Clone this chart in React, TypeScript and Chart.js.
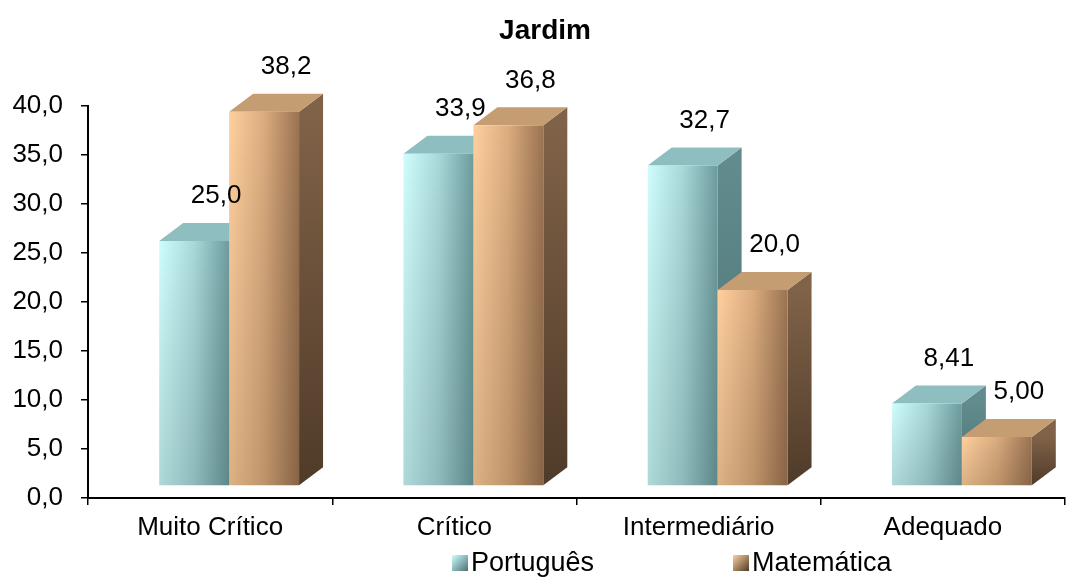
import React, { useEffect, useRef } from 'react';
import { Chart, registerables } from 'chart.js';

Chart.register(...registerables);

// ---- data ----
const chartTitle = 'Jardim';
const categories = ['Muito Crítico', 'Crítico', 'Intermediário', 'Adequado'];
const seriesNames = ['Português', 'Matemática'];
const portugues = [25.0, 33.9, 32.7, 8.41];
const matematica = [38.2, 36.8, 20.0, 5.0];
const yTickValues = [0, 5, 10, 15, 20, 25, 30, 35, 40];

// ---- styling ----
const FONT = '"Liberation Sans", Arial, sans-serif';
const W = 1070;
const H = 577;

const palettes = [
  { frontL: '#cffdfd', frontM: '#a9d8d9', frontR: '#6e9c9e', top: '#8fbec0', sideT: '#618b8d', sideB: '#4b7172', shade: 'rgba(0,30,30,0.16)' },
  { frontL: '#ffd09e', frontM: '#dbac7e', frontR: '#9a7352', top: '#c49d72', sideT: '#806248', sideB: '#4f3b29', shade: 'rgba(40,20,0,0.16)' },
];

const SHIFT_X = 19;
const SHIFT_Y = -12;
const DEPTH_X = 24;
const DEPTH_Y = -18;

const fmtValue = (v: number) => v.toPrecision(3).replace('.', ',');

const bar3d = {
  id: 'bar3d',
  afterDatasetsDraw(chart: any) {
    const ctx: CanvasRenderingContext2D = chart.ctx;
    const labels: { x: number; y: number; t: string }[] = [];
    ctx.save();
    chart.data.datasets.forEach((ds: any, di: number) => {
      const meta = chart.getDatasetMeta(di);
      const pal = palettes[di];
      meta.data.forEach((el: any, i: number) => {
        const { x, y, base, width } = el.getProps(['x', 'y', 'base', 'width'], true);
        const x0 = x - width / 2 + SHIFT_X;
        const x1 = x + width / 2 + SHIFT_X;
        const yT = y + SHIFT_Y;
        const yB = base + SHIFT_Y;

        // side face
        const sg = ctx.createLinearGradient(0, yT, 0, yB);
        sg.addColorStop(0, pal.sideT);
        sg.addColorStop(1, pal.sideB);
        ctx.fillStyle = sg;
        ctx.beginPath();
        ctx.moveTo(x1, yT);
        ctx.lineTo(x1 + DEPTH_X, yT + DEPTH_Y);
        ctx.lineTo(x1 + DEPTH_X, yB + DEPTH_Y);
        ctx.lineTo(x1, yB);
        ctx.closePath();
        ctx.fill();

        // top face
        ctx.fillStyle = pal.top;
        ctx.beginPath();
        ctx.moveTo(x0, yT);
        ctx.lineTo(x0 + DEPTH_X, yT + DEPTH_Y);
        ctx.lineTo(x1 + DEPTH_X, yT + DEPTH_Y);
        ctx.lineTo(x1, yT);
        ctx.closePath();
        ctx.fill();

        // front face: horizontal gradient + slight vertical shading
        const fg = ctx.createLinearGradient(x0, 0, x1, 0);
        fg.addColorStop(0, pal.frontL);
        fg.addColorStop(0.5, pal.frontM);
        fg.addColorStop(1, pal.frontR);
        ctx.fillStyle = fg;
        ctx.fillRect(x0, yT, x1 - x0, yB - yT);
        const vg = ctx.createLinearGradient(0, yT, 0, yB);
        vg.addColorStop(0, 'rgba(0,0,0,0)');
        vg.addColorStop(1, pal.shade);
        ctx.fillStyle = vg;
        ctx.fillRect(x0, yT, x1 - x0, yB - yT);

        labels.push({ x: (x0 + x1) / 2 + 22, y: yT - 45, t: fmtValue(ds.data[i]) });
      });
    });
    ctx.fillStyle = '#000';
    ctx.font = `26px ${FONT}`;
    ctx.textAlign = 'center';
    ctx.textBaseline = 'middle';
    labels.forEach((l) => ctx.fillText(l.t, l.x, l.y));
    ctx.restore();
  },
};

const overlay = {
  id: 'overlay',
  afterDraw(chart: any) {
    const ctx: CanvasRenderingContext2D = chart.ctx;
    ctx.save();
    ctx.fillStyle = '#000';
    ctx.textBaseline = 'alphabetic';
    ctx.textAlign = 'center';
    ctx.font = `bold 28px ${FONT}`;
    ctx.fillText(chartTitle, 545, 39);

    // legend
    const items = [
      { x: 452, name: seriesNames[0], pal: palettes[0] },
      { x: 733, name: seriesNames[1], pal: palettes[1] },
    ];
    ctx.font = `27px ${FONT}`;
    ctx.textAlign = 'left';
    items.forEach((it) => {
      const g = ctx.createLinearGradient(it.x, 555, it.x + 16, 571);
      g.addColorStop(0, it.pal.frontL);
      g.addColorStop(1, it.pal.sideB);
      ctx.fillStyle = g;
      ctx.fillRect(it.x, 555, 16, 16);
      ctx.fillStyle = '#000';
      ctx.fillText(it.name, it.x + 19, 571);
    });
    ctx.restore();
  },
};

export default function App() {
  const ref = useRef<HTMLCanvasElement | null>(null);
  useEffect(() => {
    if (!ref.current) return;
    const chart = new Chart(ref.current, {
      type: 'bar',
      data: {
        labels: categories,
        datasets: [
          { label: seriesNames[0], data: portugues, backgroundColor: 'rgba(0,0,0,0)', borderWidth: 0 },
          { label: seriesNames[1], data: matematica, backgroundColor: 'rgba(0,0,0,0)', borderWidth: 0 },
        ],
      },
      options: {
        responsive: false,
        animation: false,
        layout: { padding: { top: 106, right: 5, bottom: 0, left: 0 } },
        datasets: { bar: { categoryPercentage: 140 / 244.5, barPercentage: 1 } },
        plugins: {
          legend: { display: false },
          title: { display: false },
          tooltip: { enabled: false },
        },
        scales: {
          x: {
            grid: { display: true, drawOnChartArea: false, drawTicks: true, tickLength: 7, color: '#000', offset: true, lineWidth: 1.5 },
            border: { display: true, color: '#000', width: 2 },
            ticks: { font: { family: FONT, size: 26 }, color: '#000', padding: 7 },
            afterFit: (s: any) => { s.height = 79; },
          },
          y: {
            min: 0,
            max: 40,
            afterBuildTicks: (s: any) => { s.ticks = yTickValues.map((v) => ({ value: v })); },
            ticks: {
              font: { family: FONT, size: 26 },
              color: '#000',
              padding: 18,
              callback: (v: any) => Number(v).toFixed(1).replace('.', ','),
            },
            grid: { display: true, drawOnChartArea: false, drawTicks: true, tickLength: 7, color: '#000', lineWidth: 1.5 },
            border: { display: true, color: '#000', width: 2 },
            afterFit: (s: any) => { s.width = 88; },
          },
        },
      } as any,
      plugins: [bar3d, overlay],
    });
    return () => chart.destroy();
  }, []);
  return (
    <div style={{ position: 'absolute', left: 0, top: 0, width: W, height: H, background: '#fff' }}>
      <canvas ref={ref} width={W} height={H} style={{ display: 'block' }} />
    </div>
  );
}
